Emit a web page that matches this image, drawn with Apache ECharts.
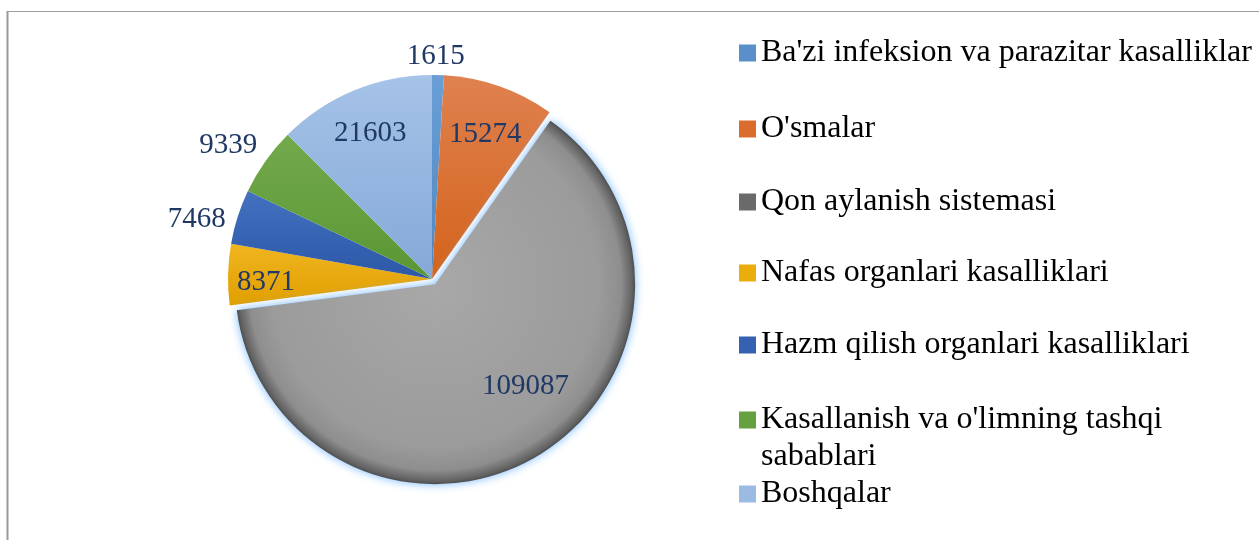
<!DOCTYPE html>
<html><head><meta charset="utf-8">
<script src="https://cdn.jsdelivr.net/npm/echarts@6/dist/echarts.min.js"></script>
<style>html,body{margin:0;padding:0;background:#fff}#c{width:1259px;height:540px}</style>
</head><body><div id="c"></div>
<script>
// ---- data ----
const categories = [
  "Ba'zi infeksion va parazitar kasalliklar",
  "O'smalar",
  "Qon aylanish sistemasi",
  "Nafas organlari kasalliklari",
  "Hazm qilish organlari kasalliklari",
  "Kasallanish va o'limning tashqi sabablari",
  "Boshqalar"
];
const values = [1615, 15274, 109087, 8371, 7468, 9339, 21603];

// ---- style ----
const topColors    = ['#6a9fd6', '#df8150', '#a6a6a6', '#efb520', '#4371c0', '#73aa4c', '#a6c3e8'];
const bottomColors = ['#4f86c2', '#d4631a', '#8e8e8e', '#e19f00', '#2c58a6', '#5a9633', '#84a8d8'];
const legendColors = ['#5a90ca', '#da6c2e', '#6a6a6a', '#ebad0c', '#3561b2', '#67a03f', '#9bbbe3'];
const legendCenters = [48, 124, 197, 268, 340, 415, 489];
// label nudges (dx, dy) in px, applied through padding / rich spacer lines
const labelShift = [[-3, 3], [0, 7], [19, -16], [-5, 7], [0, 16], [-2, 9], [0, 3]];
const explodedIndex = 2;
const innerLabelIdx = [1, 3, 6];
const outerLabelIdx = [4, 5];
const topLabelIdx = [0];

const CX = 432, CY = 279, R = 204, RG = 200, OFF = 6;
const FONT = 'Liberation Serif';
const T = 'rgba(0,0,0,0)';
const LABEL_COLOR = '#1f3864';

function vgrad(i) {
  return new echarts.graphic.LinearGradient(0, 0, 0, 1, [
    { offset: 0, color: topColors[i] }, { offset: 1, color: bottomColors[i] }
  ]);
}

// radial gradient for exploded slice (relative to its bounding box)
function greyGradient() {
  const total = values.reduce((a, b) => a + b, 0);
  let before = 0;
  for (let k = 0; k < explodedIndex; k++) before += values[k];
  const a0 = before / total * 360, a1 = (before + values[explodedIndex]) / total * 360;
  const pts = [[0, 0]];
  const pt = d => { const t = d * Math.PI / 180; return [Math.sin(t), -Math.cos(t)]; };
  pts.push(pt(a0), pt(a1));
  for (let q = 0; q <= 720; q += 90) if (q > a0 && q < a1) pts.push(pt(q));
  const xs = pts.map(p => p[0]), ys = pts.map(p => p[1]);
  const minx = Math.min(...xs), maxx = Math.max(...xs), miny = Math.min(...ys), maxy = Math.max(...ys);
  const w = maxx - minx, h = maxy - miny;
  return new echarts.graphic.RadialGradient((0 - minx) / w, (0 - miny) / h, 1 / Math.min(w, h), [
    { offset: 0, color: '#a8a8a8' },
    { offset: 0.82, color: '#9b9b9b' },
    { offset: 0.93, color: '#8e8e8e' },
    { offset: 0.985, color: '#626262' },
    { offset: 1, color: '#4e4e4e' }
  ]);
}

function labelFor(i, show) {
  const dx = labelShift[i][0], dy = labelShift[i][1];
  return {
    show: show, position: 'inside', textBorderWidth: 0, textShadowBlur: 0,
    padding: [0, dx < 0 ? -2 * dx : 0, 0, dx > 0 ? 2 * dx : 0],
    formatter: p => {
      const v = '{v|' + p.value + '}';
      if (dy > 0) return '{s| }\n' + v;
      if (dy < 0) return v + '\n{s| }';
      return v;
    },
    rich: {
      v: { fontFamily: FONT, fontSize: 29, lineHeight: 33, color: LABEL_COLOR },
      s: { fontFamily: FONT, fontSize: 1, lineHeight: Math.max(1, 2 * Math.abs(dy)), color: T }
    }
  };
}

function ring(radius, showIdx, opts) {
  return Object.assign({
    type: 'pie', center: [CX, CY], radius: radius, startAngle: 90, clockwise: true,
    silent: true, animation: false, avoidLabelOverlap: false,
    labelLine: { show: false }, emphasis: { disabled: true },
    itemStyle: { borderWidth: 0 },
    data: categories.map((n, i) => ({
      name: n, value: values[i],
      itemStyle: { color: T },
      label: labelFor(i, showIdx.indexOf(i) >= 0)
    }))
  }, opts || {});
}

const mainSeries = {
  type: 'pie', center: [CX, CY], radius: [0, R], startAngle: 90, clockwise: true,
  silent: true, animation: false, label: { show: false }, labelLine: { show: false },
  emphasis: { disabled: true }, itemStyle: { borderWidth: 0 },
  data: categories.map((n, i) => ({
    name: n, value: values[i],
    itemStyle: { color: i === explodedIndex ? T : vgrad(i) }
  }))
};

const greySeries = {
  type: 'pie', center: [CX, CY], radius: [0, RG], startAngle: 90, clockwise: true,
  silent: true, animation: false, label: { show: false }, labelLine: { show: false },
  emphasis: { disabled: true }, selectedMode: 'single', selectedOffset: OFF,
  itemStyle: { borderWidth: 0 },
  data: categories.map((n, i) => i === explodedIndex ? ({
    name: n, value: values[i], selected: true,
    itemStyle: { color: greyGradient(), shadowBlur: 10, shadowColor: 'rgba(110,180,255,0.95)' }
  }) : ({ name: n, value: values[i], itemStyle: { color: T } }))
};

const greyLabelRing = ring([70, RG], [explodedIndex], { selectedMode: 'single', selectedOffset: OFF });
greyLabelRing.data[explodedIndex].selected = true;

const LINE_H = 37;
const legends = categories.map((n, i) => {
  const twoLine = (n === categories[5]);
  return {
    orient: 'vertical', left: 734,
    top: legendCenters[i] - (twoLine ? 1.5 : 0.5) * LINE_H,
    itemWidth: 17, itemHeight: 17, icon: 'rect', selectedMode: false,
    formatter: twoLine ? (name => '\n' + name) : '{name}',
    textStyle: {
      fontFamily: FONT, fontSize: 32, color: '#000', lineHeight: LINE_H,
      width: 500, overflow: 'break'
    },
    data: [{ name: n, itemStyle: { color: legendColors[i], borderWidth: 0 } }]
  };
});

const option = {
  backgroundColor: '#ffffff',
  animation: false,
  legend: legends,
  graphic: [
    { type: 'line', shape: { x1: 7, y1: 11.5, x2: 1259, y2: 11.5 }, style: { stroke: '#a0a0a0', lineWidth: 1.2 } },
    { type: 'line', shape: { x1: 7.5, y1: 11, x2: 7.5, y2: 540 }, style: { stroke: '#9a9a9a', lineWidth: 2 } }
  ],
  series: [
    mainSeries,
    greySeries,
    ring([112, R], innerLabelIdx),
    greyLabelRing,
    ring([R, 284], outerLabelIdx),
    ring([R, 242], topLabelIdx)
  ]
};

const chart = echarts.init(document.getElementById('c'), null, { renderer: 'canvas' });
chart.setOption(option);
</script>
</body></html>
